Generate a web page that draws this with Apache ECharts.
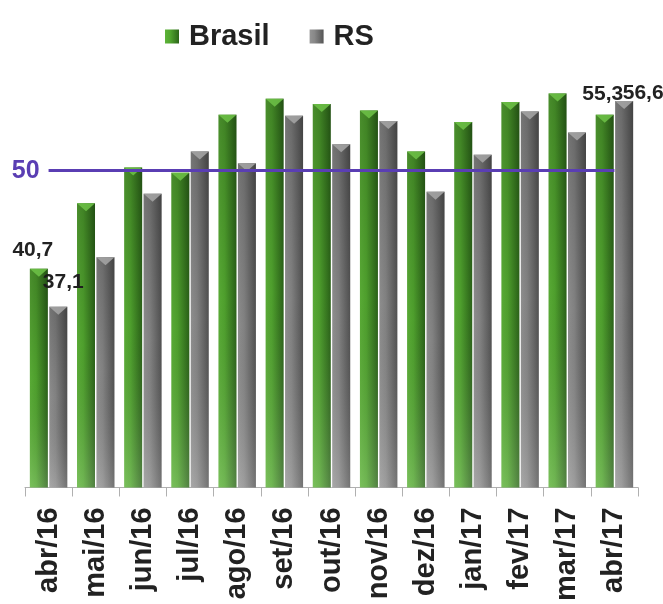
<!DOCTYPE html>
<html>
<head>
<meta charset="utf-8">
<script src="https://cdn.jsdelivr.net/npm/echarts@6/dist/echarts.min.js"></script>
<style>html,body{margin:0;padding:0;background:#fff}#c{width:663px;height:604px}</style>
</head>
<body>
<div id="c"></div>
<script>
var categories = ['abr/16','mai/16','jun/16','jul/16','ago/16','set/16','out/16','nov/16','dez/16','jan/17','fev/17','mar/17','abr/17'];
var brasil = [40.7, 46.9, 50.3, 49.8, 55.3, 56.8, 56.3, 55.7, 51.8, 54.6, 56.5, 57.3, 55.3];
var rs     = [37.1, 41.8, 47.8, 51.8, 50.7, 55.2, 52.5, 54.7, 48.0, 51.5, 55.6, 53.6, 56.6];
var referenceValue = 50;
var labeledIndexes = [0, 12];

var FONT = "'Liberation Sans', Arial, sans-serif";
var chart = echarts.init(document.getElementById('c'), null, {renderer: 'canvas'});

function grad(stops, vertical) {
  return new echarts.graphic.LinearGradient(0, 0, vertical ? 0 : 1, vertical ? 1 : 0,
    stops.map(function (s) { return {offset: s[0], color: s[1]}; }));
}
var greenFill = grad([[0, '#5db338'], [0.35, '#52a72f'], [1, '#2c6619']]);
var grayFill = grad([[0, '#959595'], [0.35, '#888888'], [1, '#555555']]);
var shade = grad([[0, 'rgba(0,0,0,0.22)'], [0.5, 'rgba(0,0,0,0.05)'], [1, 'rgba(255,255,255,0.18)']], true);

var labelOffsets = {
  b0: [-6, -3], b12: [-2, -5], r0: [5, -9], r12: [19, 8]
};
function makeData(values, key) {
  return values.map(function (v, i) {
    if (labeledIndexes.indexOf(i) < 0) return v;
    return {value: v, label: {show: true, offset: labelOffsets[key + i]}};
  });
}
var labelStyle = {
  show: false, position: 'top', distance: 5, color: '#222', fontFamily: FONT,
  fontWeight: 'bold', fontSize: 21,
  formatter: function (p) { return String(p.value).replace('.', ','); }
};
var barLayout = {barWidth: 18, barGap: '8%', barCategoryGap: '19%'};
function withLayout(o) { return Object.assign({}, barLayout, o); }

var option = {
  animation: false,
  backgroundColor: '#fff',
  legend: {
    data: ['Brasil', 'RS'],
    left: 160, top: 17,
    itemWidth: 14, itemHeight: 14, itemGap: 40, icon: 'rect',
    textStyle: {fontFamily: FONT, fontWeight: 'bold', fontSize: 29, color: '#222', padding: [0, 0, 0, 5]}
  },
  grid: [{left: 25, right: 25, top: 65, bottom: 114}],
  xAxis: [{
    type: 'category', data: categories,
    axisLine: {lineStyle: {color: '#b0b0b0', width: 1}},
    axisTick: {show: true, length: 9, lineStyle: {color: '#b0b0b0'}},
    axisLabel: {rotate: 90, margin: 20, fontFamily: FONT, fontWeight: 'bold', fontSize: 29, color: '#222', interval: 0}
  }, {
    type: 'category', data: categories, show: false
  }, {
    type: 'category', data: categories, show: false
  }],
  yAxis: [{
    type: 'value', min: 20, max: 60, show: false, splitLine: {show: false}
  }, {
    type: 'value', min: 20, max: 60, show: false, splitLine: {show: false}
  }, {
    type: 'value', min: 20, max: 60, show: false, splitLine: {show: false}
  }],
  series: [withLayout({
    name: 'Brasil', type: 'bar', data: makeData(brasil, 'b'),
    itemStyle: {color: greenFill}, label: labelStyle, z: 2
  }), withLayout({
    name: 'RS', type: 'bar', data: makeData(rs, 'r'),
    itemStyle: {color: grayFill}, label: labelStyle, z: 2
  }), withLayout({
    name: 'shadeB', type: 'bar', data: brasil, xAxisIndex: 1, yAxisIndex: 1, silent: true,
    itemStyle: {color: shade}, z: 3
  }), withLayout({
    name: 'shadeR', type: 'bar', data: rs, xAxisIndex: 1, yAxisIndex: 1, silent: true,
    itemStyle: {color: shade}, z: 3
  }), withLayout({
    name: 'capB', type: 'pictorialBar', data: brasil, xAxisIndex: 2, yAxisIndex: 2, silent: true,
    symbol: 'triangle', symbolRotate: 180, symbolSize: [18, 8], symbolPosition: 'end',
    symbolOffset: [0, 0], itemStyle: {color: '#6cbf46', opacity: 0.9}, z: 4
  }), withLayout({
    name: 'capR', type: 'pictorialBar', data: rs, xAxisIndex: 2, yAxisIndex: 2, silent: true,
    symbol: 'triangle', symbolRotate: 180, symbolSize: [18, 8], symbolPosition: 'end',
    symbolOffset: [0, 0], itemStyle: {color: '#a3a3a3', opacity: 0.9}, z: 4
  }), {
    name: 'ref', type: 'line', data: [], silent: true,
    markLine: {
      silent: true, symbol: 'none', z: 5,
      lineStyle: {color: '#5a3eb3', width: 3, type: 'solid'},
      label: {show: true, position: 'start', distance: 9, formatter: String(referenceValue),
        color: '#5a3eb3', fontFamily: FONT, fontWeight: 'bold', fontSize: 25},
      data: [[{coord: [categories[0], referenceValue]}, {coord: [categories[categories.length - 1], referenceValue]}]]
    }
  }]
};
chart.setOption(option);
</script>
</body>
</html>
